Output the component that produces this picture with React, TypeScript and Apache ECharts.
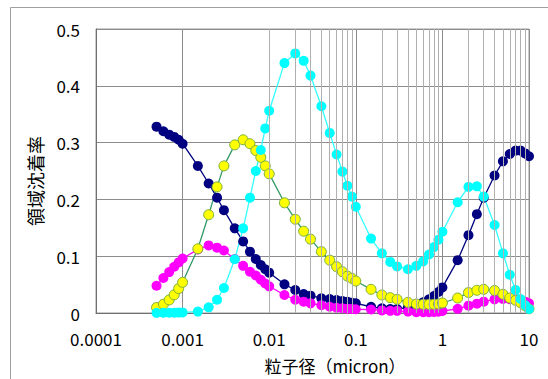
import React, { useEffect, useRef } from "react";
import * as echarts from "echarts";

// particle diameter (micron)
const sizes = [
  0.0005, 0.0006, 0.0007, 0.0008, 0.0009,
  0.001, 0.0015, 0.002, 0.0025, 0.003, 0.004, 0.005, 0.006, 0.007, 0.008, 0.009,
  0.01, 0.015, 0.02, 0.025, 0.03, 0.04, 0.05, 0.06, 0.07, 0.08, 0.09,
  0.1, 0.15, 0.2, 0.25, 0.3, 0.4, 0.5, 0.6, 0.7, 0.8, 0.9,
  1, 1.5, 2, 2.5, 3, 4, 5, 6, 7, 8, 9, 10,
];

// navy series
const seriesET = [
  0.328, 0.32, 0.314, 0.31, 0.305,
  0.298, 0.259, 0.228, 0.203, 0.181, 0.149, 0.126, 0.108, 0.095, 0.0845, 0.077,
  0.071, 0.0505, 0.0405, 0.0335, 0.0305, 0.026, 0.0246, 0.0229, 0.0211, 0.0199, 0.018,
  0.017, 0.011, 0.0083, 0.007, 0.007, 0.01, 0.014, 0.019, 0.024, 0.03, 0.037,
  0.045, 0.093, 0.137, 0.174, 0.203, 0.242, 0.267, 0.28, 0.286, 0.286, 0.281, 0.276,
];

// magenta series
const seriesBB = [
  0.048, 0.0616, 0.072, 0.0815, 0.089,
  0.096, 0.112, 0.119, 0.115, 0.11, 0.095, 0.083, 0.0727, 0.066, 0.0586, 0.052,
  0.047, 0.0317, 0.0234, 0.02, 0.017, 0.0136, 0.011, 0.0093, 0.0083, 0.0076, 0.007,
  0.0066, 0.0062, 0.0045, 0.0038, 0.0038, 0.0025, 0.0015, 0.0015, 0.0015, 0.0017, 0.0022,
  0.0035, 0.0074, 0.0129, 0.0164, 0.02, 0.024, 0.025, 0.0243, 0.024, 0.0224, 0.02, 0.017,
];

// yellow series
const seriesbb = [
  0.0097, 0.0155, 0.023, 0.032, 0.043,
  0.054, 0.113, 0.173, 0.222, 0.259, 0.296, 0.305, 0.298, 0.286, 0.274, 0.259,
  0.245, 0.194, 0.165, 0.144, 0.13, 0.108, 0.093, 0.0815, 0.0727, 0.065, 0.061,
  0.0563, 0.0417, 0.0317, 0.027, 0.024, 0.0188, 0.0158, 0.0153, 0.0153, 0.0153, 0.0158,
  0.0176, 0.0264, 0.036, 0.04, 0.0417, 0.0396, 0.033, 0.0264, 0.0224, 0.018, 0.0127, 0.0074,
];

// cyan series
const seriesAI = [
  0.0003, 0.0004, 0.0005, 0.0006, 0.0008,
  0.001, 0.0025, 0.01, 0.0234, 0.044, 0.0947, 0.149, 0.203, 0.25, 0.287, 0.325,
  0.356, 0.44, 0.457, 0.444, 0.418, 0.364, 0.317, 0.279, 0.249, 0.224, 0.205,
  0.187, 0.131, 0.105, 0.09, 0.082, 0.077, 0.083, 0.091, 0.103, 0.116, 0.129,
  0.143, 0.195, 0.222, 0.223, 0.205, 0.155, 0.105, 0.0674, 0.0405, 0.0246, 0.014, 0.007,
];

const xTickLabels = ["0.0001", "0.001", "0.01", "0.1", "1", "10"];
const yTicks = [0, 0.1, 0.2, 0.3, 0.4, 0.5];
const xTitle = "粒子径（micron）";
const yTitle = "領域沈着率";

const decadeExponents = [-4, -3, -2, -1, 0];
const minorMultipliers = [2, 3, 4, 5, 6, 7, 8, 9];

const FONT = "'Noto Sans CJK JP', 'Noto Sans', sans-serif";

export default function App() {
  const ref = useRef<HTMLDivElement>(null);

  useEffect(() => {
    if (!ref.current) return;
    const chart = echarts.init(ref.current, null, { renderer: "svg" });

    const minorGrid: number[] = [];
    decadeExponents.forEach((e) => {
      minorMultipliers.forEach((m) => {
        minorGrid.push(parseFloat((m * Math.pow(10, e)).toPrecision(6)));
      });
    });

    const toPairs = (vals: number[]) => sizes.map((x, i) => [x, vals[i]]);

    const mk = (
      name: string,
      vals: number[],
      lineColor: string,
      fill: string,
      border: string,
      borderWidth: number
    ) => ({
      name,
      type: "line",
      data: toPairs(vals),
      symbol: "circle",
      symbolSize: 10,
      showAllSymbol: true,
      clip: false,
      z: 3,
      lineStyle: { color: lineColor, width: 1.3 },
      itemStyle: { color: fill, borderColor: border, borderWidth },
      emphasis: { disabled: true },
    });

    chart.setOption({
      animation: false,
      backgroundColor: "#ffffff",
      textStyle: { fontFamily: FONT },
      grid: {
        left: 96,
        top: 29,
        right: 19,
        bottom: 66,
        show: true,
        borderColor: "#9a9a9a",
        borderWidth: 1,
        backgroundColor: "transparent",
      },
      xAxis: {
        type: "log",
        logBase: 10,
        min: 0.0001,
        max: 10,
        axisLine: { show: true, lineStyle: { color: "#707070", width: 1 } },
        axisTick: { show: false },
        splitLine: { show: true, lineStyle: { color: "#8c8c8c", width: 1 } },
        axisLabel: {
          color: "#000",
          fontSize: 17,
          lineHeight: 17,
          fontFamily: FONT,
          margin: 17,
          formatter: (v: number) => {
            const idx = Math.round(Math.log10(v)) + 4;
            return xTickLabels[idx] ?? "";
          },
        },
      },
      yAxis: {
        type: "value",
        min: yTicks[0],
        max: yTicks[yTicks.length - 1],
        interval: 0.1,
        axisLine: { show: true, lineStyle: { color: "#707070", width: 1 } },
        axisTick: { show: false },
        splitLine: { show: true, lineStyle: { color: "#8c8c8c", width: 1 } },
        axisLabel: {
          color: "#000",
          fontSize: 17,
          lineHeight: 17,
          fontFamily: FONT,
          margin: 16,
          formatter: (v: number) => String(parseFloat(v.toFixed(1))),
        },
      },
      series: [
        {
          name: "grid-minor",
          type: "line",
          data: [[sizes[0], 0]],
          symbol: "none",
          silent: true,
          z: 1,
          lineStyle: { width: 0 },
          markLine: {
            silent: true,
            symbol: ["none", "none"],
            label: { show: false },
            animation: false,
            lineStyle: { color: "#b0b0b0", width: 1, type: "solid" },
            emphasis: { disabled: true },
            data: minorGrid.map((v) => ({ xAxis: v })),
          },
        },
        mk("ET", seriesET, "#000080", "#000080", "#000080", 0),
        mk("BB", seriesBB, "#FF00FF", "#FF00FF", "#FF00FF", 0),
        mk("bb", seriesbb, "#339966", "#FFFF00", "#7AB03A", 1),
        mk("AI", seriesAI, "#33FFFF", "#00FFFF", "#00FFFF", 0),
      ],
      graphic: [
        {
          type: "rect",
          silent: true,
          shape: { x: 10.5, y: 7.5, width: 700, height: 700 },
          style: { fill: "none", stroke: "#a0a0a0", lineWidth: 1 },
          z: 0,
        },
        {
          type: "text",
          silent: true,
          x: 335,
          y: 365,
          style: {
            text: xTitle,
            fontSize: 17,
            fontFamily: FONT,
            fill: "#000",
            textAlign: "center",
            textVerticalAlign: "middle",
          },
        },
        {
          type: "text",
          silent: true,
          x: 35,
          y: 181,
          rotation: Math.PI / 2,
          style: {
            text: yTitle,
            fontSize: 18,
            fontFamily: FONT,
            fill: "#000",
            textAlign: "center",
            textVerticalAlign: "middle",
          },
        },
      ],
    });

    return () => chart.dispose();
  }, []);

  return (
    <div
      ref={ref}
      style={{ position: "fixed", left: 0, top: 0, width: 548, height: 379 }}
    />
  );
}
